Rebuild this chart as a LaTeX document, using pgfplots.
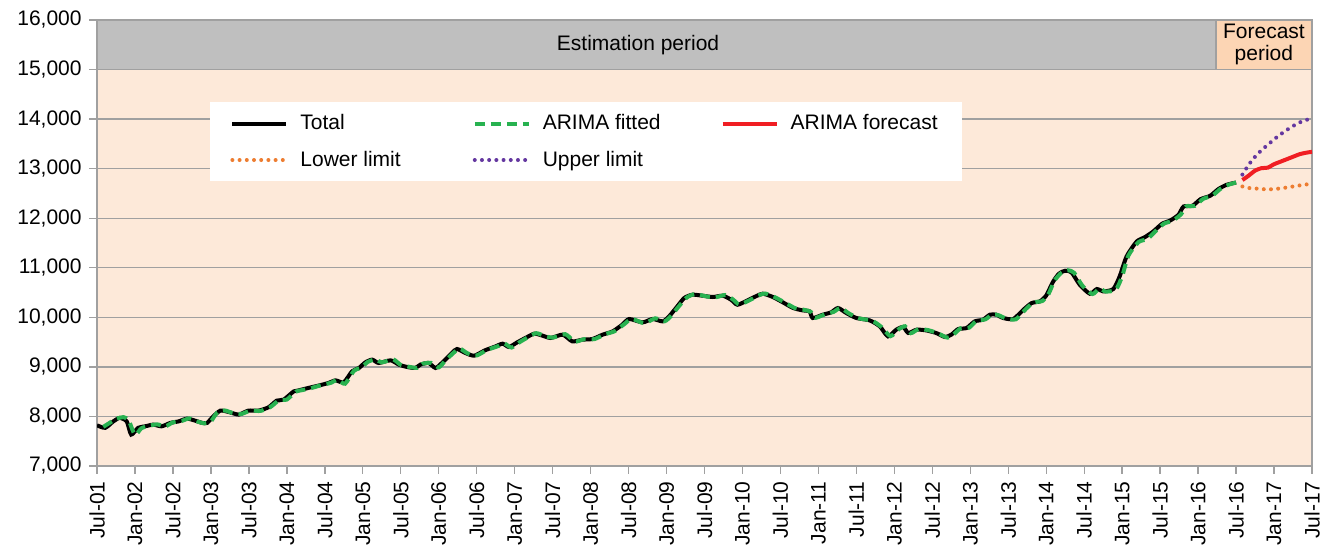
\documentclass[border=0pt]{standalone}
\usepackage{fontspec}
\setmainfont{Liberation Sans}
\usepackage{pgfplots}
\usepackage{pgfplotstable}
\pgfplotsset{compat=1.18}
\usetikzlibrary{calc}

\definecolor{bgpeach}{RGB}{253,233,217}
\definecolor{fcpeach}{RGB}{252,213,180}
\definecolor{bandgray}{RGB}{191,191,191}
\definecolor{gridgray}{RGB}{160,160,160}
\definecolor{fitgreen}{RGB}{40,178,80}
\definecolor{fcred}{RGB}{240,30,35}
\definecolor{lowor}{RGB}{237,125,49}
\definecolor{uppur}{RGB}{100,55,160}

% months counted from Jul-01 (=0)
\pgfplotstableread{
m v
0 7821
1.3 7770
2.6 7902
3.6 7970
4.7 7900
5.4 7634
6.5 7770
7.6 7800
8.9 7835
10.2 7800
11.6 7870
12.9 7900
14.2 7956
15.5 7915
16.6 7870
17.4 7870
18.4 8003
19.5 8117
20.8 8090
22.4 8037
23.9 8117
25.5 8117
27.1 8184
28.4 8319
29.5 8339
31.1 8506
31.9 8527
33.4 8575
35.0 8622
36.6 8676
37.7 8728
39.0 8688
40.3 8910
41.4 8978
42.4 9091
43.5 9146
44.5 9079
46.4 9132
47.7 9045
49.0 8998
50.3 8978
51.1 9045
52.4 9079
53.5 8978
54.6 9091
56.1 9281
56.9 9361
58.2 9281
59.6 9226
61.3 9333
63.0 9414
64.1 9468
65.1 9401
66.4 9495
67.7 9583
69.1 9670
70.4 9630
71.7 9583
73.6 9650
75.1 9515
76.7 9549
78.3 9563
79.9 9650
81.5 9717
83.0 9851
84.1 9966
86.2 9898
87.8 9966
89.4 9918
90.4 10019
91.5 10188
92.8 10390
94.1 10456
95.7 10436
97.3 10410
98.9 10436
100.2 10355
101.2 10254
102.8 10342
104.1 10423
105.2 10477
106.8 10410
108.4 10301
110.0 10188
111.5 10140
112.6 10120
113.1 9986
114.7 10053
116.0 10100
117.1 10188
118.4 10087
120.0 9986
122.1 9938
123.7 9817
125.0 9615
126.3 9750
127.4 9805
128.2 9684
129.5 9750
131.0 9737
132.6 9684
134.0 9603
135.0 9650
136.1 9764
137.4 9784
138.7 9918
140.0 9952
141.1 10053
142.1 10053
143.2 9986
144.8 9966
146.4 10154
147.7 10288
149.0 10322
150.0 10440
151.0 10700
152.0 10880
153.0 10940
154.0 10906
155.3 10657
156.9 10476
158.0 10571
159.0 10523
160.6 10571
161.6 10825
162.7 11228
164.3 11530
165.6 11619
166.9 11731
168.3 11887
169.6 11954
170.9 12069
171.7 12236
173.1 12250
174.4 12385
175.9 12452
177.2 12587
178.5 12674
180.0 12720
}\totaltab

\pgfplotstableread{
m v
1.0 7790
2.0 7870
3.0 7950
4.2 7985
5.0 7920
6.0 7630
7.0 7760
8.2 7810
9.5 7840
10.8 7800
12.0 7880
13.4 7910
14.6 7960
15.8 7900
17.0 7860
18.0 7900
19.0 8080
20.2 8120
21.4 8070
22.8 8050
24.3 8120
25.8 8110
27.4 8190
28.8 8330
30.0 8340
31.4 8500
32.4 8530
33.8 8570
35.4 8630
37.0 8680
38.0 8740
39.2 8660
40.6 8920
41.8 8990
42.8 9100
44.0 9150
45.0 9090
46.8 9150
48.0 9040
49.4 9000
50.6 8980
51.4 9060
52.8 9080
54.0 8990
55.0 9120
56.4 9290
57.3 9370
58.6 9270
60.0 9230
61.6 9340
63.4 9420
64.4 9470
65.5 9390
66.8 9500
68.0 9590
69.4 9680
70.8 9620
72.0 9590
74.0 9660
75.5 9510
77.0 9560
78.6 9560
80.3 9660
81.8 9720
83.4 9870
84.5 9970
86.5 9880
88.2 9980
89.7 9920
90.8 10040
91.8 10200
93.2 10400
94.5 10470
96.0 10430
97.6 10400
99.3 10450
100.6 10350
101.5 10260
103.2 10350
104.5 10440
105.6 10480
107.2 10400
108.8 10290
110.4 10180
111.8 10150
112.8 10110
113.5 9990
115.0 10060
116.4 10110
117.5 10190
118.8 10080
120.4 9980
122.5 9930
124.0 9800
125.4 9620
126.7 9760
127.7 9820
128.6 9680
129.8 9760
131.4 9740
133.0 9670
134.4 9590
135.4 9660
136.5 9780
137.8 9790
139.0 9930
140.4 9960
141.5 10060
142.5 10040
143.6 9980
145.2 9960
146.8 10170
148.0 10300
149.4 10330
150.4 10480
151.3 10740
152.4 10900
153.4 10950
154.4 10900
155.7 10640
157.3 10470
158.4 10580
159.4 10520
161.0 10560
162.0 10830
163.0 11250
164.6 11520
166.0 11580
167.2 11730
168.6 11890
170.0 11950
171.3 12080
172.1 12240
173.5 12250
174.8 12390
176.3 12460
177.6 12600
178.9 12680
180.0 12720
}\fittab

\pgfplotstableread{
m fc lo up
181 12770 12640 12880
182 12860 12610 13080
183 12960 12600 13240
184 13010 12590 13370
185 13020 12580 13480
186 13090 12590 13590
187 13140 12600 13690
188 13190 12620 13780
189 13240 12640 13860
190 13290 12660 13930
191 13320 12680 13980
192 13340 12690 14010
}\fctab

\begin{document}
\fontsize{10.5}{12.6}\selectfont
\begin{tikzpicture}
\begin{axis}[
    name=ax,
    scale only axis, width=607.5pt, height=223pt,
    xmin=0, xmax=192, ymin=7000, ymax=16000,
    axis background/.style={fill=bgpeach},
    axis line style={draw=gridgray, line width=0.7pt},
    ymajorgrids, grid style={draw=gridgray, line width=0.7pt},
    tick align=outside, tick pos=left, major tick length=4pt,
    tick style={draw=gridgray, line width=0.7pt},
    xtick={0,6,...,192},
    xticklabels={Jul-01,Jan-02,Jul-02,Jan-03,Jul-03,Jan-04,Jul-04,Jan-05,Jul-05,Jan-06,Jul-06,Jan-07,Jul-07,Jan-08,Jul-08,Jan-09,Jul-09,Jan-10,Jul-10,Jan-11,Jul-11,Jan-12,Jul-12,Jan-13,Jul-13,Jan-14,Jul-14,Jan-15,Jul-15,Jan-16,Jul-16,Jan-17,Jul-17},
    x tick label style={rotate=90, anchor=east},
    ytick={7000,8000,...,16000},
    scaled y ticks=false,
    yticklabel style={/pgf/number format/fixed, /pgf/number format/1000 sep={,}},
    /pgf/number format/assume math mode=true,
    ticklabel style={font=\fontsize{10.5}{12.6}\selectfont},
    legend columns=3,
    legend cell align=left,
    legend style={at={(0.093,0.816)}, anchor=north west, draw=none, fill=white,
        font=\fontsize{10.5}{12.6}\selectfont,
        inner xsep=10pt, inner ysep=4pt, row sep=5pt,
        /tikz/column 1/.append style={column sep=4pt},
        /tikz/column 2/.append style={column sep=34pt},
        /tikz/column 3/.append style={column sep=4pt},
        /tikz/column 4/.append style={column sep=28pt},
        /tikz/column 5/.append style={column sep=4pt}},
    legend image code/.code={\draw[#1] (0pt,0pt) -- (27pt,0pt);},
]
\fill[bandgray, draw=gridgray, line width=0.7pt] (axis cs:0,15000) rectangle (axis cs:176.8,16000);
\fill[fcpeach, draw=gridgray, line width=0.7pt] (axis cs:176.8,15000) rectangle (axis cs:192,16000);
\node at (axis cs:85.5,15500) {Estimation period};
\node[align=center, inner sep=0pt] at (axis cs:184.4,15500) {Forecast\\[-1.5pt]period};

\addplot[black, line width=2pt, smooth, tension=0.4] table[x=m, y=v] {\totaltab};
\addlegendentry{Total}
\addplot[fitgreen, line width=2pt, dash pattern=on 5pt off 3pt, smooth, tension=0.4] table[x=m, y=v] {\fittab};
\addlegendentry{ARIMA fitted}
\addplot[fcred, line width=2pt, smooth, tension=0.4] table[x=m, y=fc] {\fctab};
\addlegendentry{ARIMA forecast}
\addplot[lowor, line width=2pt, line cap=round, dash pattern=on 0pt off 3.6pt, smooth] table[x=m, y=lo] {\fctab};
\addlegendentry{Lower limit}
\addplot[uppur, line width=2pt, line cap=round, dash pattern=on 0pt off 3.6pt, smooth] table[x=m, y=up] {\fctab};
\addlegendentry{Upper limit}
\end{axis}
\pgfresetboundingbox
\path ($(ax.south west)+(-48.5pt,-43pt)$) rectangle ($(ax.north east)+(7pt,10pt)$);
\end{tikzpicture}
\end{document}
